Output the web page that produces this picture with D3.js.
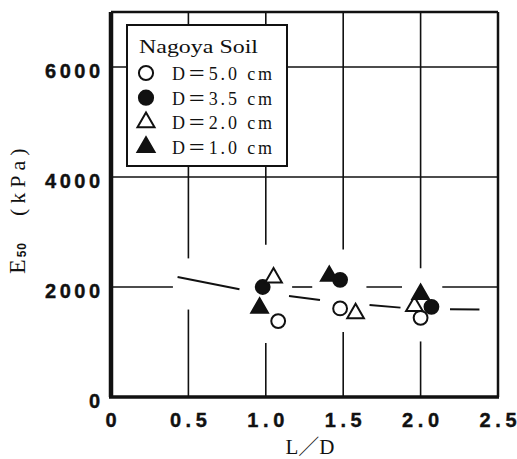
<!DOCTYPE html>
<html><head><meta charset="utf-8">
<script src="https://cdn.jsdelivr.net/npm/d3@7"></script>
<style>html,body{margin:0;padding:0;background:#fff;}svg{display:block;}</style>
</head><body>
<svg id="c" width="517" height="459"></svg>
<script>
// ---- data ----
const legendTitle = "Nagoya Soil";
const seriesLabels = ["D\uFF1D5.0 cm", "D\uFF1D3.5 cm", "D\uFF1D2.0 cm", "D\uFF1D1.0 cm"];
const seriesShapes = ["circle", "circle", "triangle", "triangle"];
const seriesFilled = [false, true, false, true];
const ld_D50 = [1.08, 1.48, 2.00];
const e50_D50 = [1380, 1610, 1440];
const ld_D35 = [0.98, 1.48, 2.07];
const e50_D35 = [2000, 2130, 1640];
const ld_D20 = [1.05, 1.58, 1.96];
const e50_D20 = [2170, 1520, 1650];
const ld_D10 = [0.96, 1.41, 2.00];
const e50_D10 = [1620, 2200, 1870];
const trendLD = [0.43, 0.83, 1.15, 1.35, 1.67, 1.87, 2.19, 2.38];
const trendE50 = [2180, 1960, 1835, 1763, 1672, 1625, 1595, 1590];
const xTicks = [0, 0.5, 1.0, 1.5, 2.0, 2.5];
const yTicks = [0, 2000, 4000, 6000];
const xTickLabels = ["0", "0.5", "1.0", "1.5", "2.0", "2.5"];
const yTickLabels = ["0", "2000", "4000", "6000"];
// gridline breaks (where the original drawing leaves the grid blank)
const vGridBreakLow = [1590, 980, 1180, 1010];
const vGridBreakHigh = [2520, 2770, 2680, 2340];
const hGridBreakStart = [0.40, 1.30, 1.88];
const hGridBreakEnd = [1.17, 1.65, 2.14];

const series = [
  {ld: ld_D50, e: e50_D50}, {ld: ld_D35, e: e50_D35},
  {ld: ld_D20, e: e50_D20}, {ld: ld_D10, e: e50_D10}
];

// ---- layout ----
const L = 111, R = 498, T = 12, B = 397;
const x = d3.scaleLinear().domain([0, 2.5]).range([L, R]);
const y = d3.scaleLinear().domain([0, 7000]).range([B, T]);
const svg = d3.select("#c");
const ink = "#111";

// vertical gridlines
const vg = svg.append("g").attr("stroke", ink).attr("stroke-width", 1.6);
[0.5, 1.0, 1.5, 2.0].forEach((v, i) => {
  vg.append("line").attr("x1", x(v)).attr("x2", x(v)).attr("y1", y(7000)).attr("y2", y(vGridBreakHigh[i]));
  vg.append("line").attr("x1", x(v)).attr("x2", x(v)).attr("y1", y(vGridBreakLow[i])).attr("y2", y(0));
});
// horizontal gridlines
[4000, 6000].forEach(v => {
  vg.append("line").attr("x1", x(0)).attr("x2", x(2.5)).attr("y1", y(v)).attr("y2", y(v));
});
{
  let starts = [0].concat(hGridBreakEnd);
  let ends = hGridBreakStart.concat([2.5]);
  starts.forEach((s, i) => {
    vg.append("line").attr("x1", x(s)).attr("x2", x(ends[i])).attr("y1", y(2000)).attr("y2", y(2000));
  });
}

// frame
svg.append("line").attr("x1", x(0)).attr("x2", x(0)).attr("y1", y(7000)).attr("y2", y(0)).attr("stroke", ink).attr("stroke-width", 4.5);
svg.append("line").attr("x1", x(0) - 2).attr("x2", x(2.5) + 1).attr("y1", y(0)).attr("y2", y(0)).attr("stroke", ink).attr("stroke-width", 3.5);
svg.append("line").attr("x1", x(0)).attr("x2", x(2.5)).attr("y1", y(7000)).attr("y2", y(7000)).attr("stroke", ink).attr("stroke-width", 2.5);
svg.append("line").attr("x1", x(2.5)).attr("x2", x(2.5)).attr("y1", y(7000)).attr("y2", y(0)).attr("stroke", ink).attr("stroke-width", 2.5);

// tick labels
const tickFont = "'Liberation Sans', Arial, sans-serif";
xTicks.forEach((v, i) => {
  const t = svg.append("text").attr("x", x(v)).attr("y", 427)
    .attr("text-anchor", "middle").attr("font-family", tickFont).attr("font-weight", "bold")
    .attr("font-size", 20).attr("fill", ink).attr("stroke", ink).attr("stroke-width", 0.4).text(xTickLabels[i]);
  if (xTickLabels[i].length > 1) t.attr("textLength", 37).attr("lengthAdjust", "spacing");
});
yTicks.forEach((v, i) => {
  const t = svg.append("text").attr("x", 100).attr("y", y(v) + 11)
    .attr("text-anchor", "end").attr("font-family", tickFont).attr("font-weight", "bold")
    .attr("font-size", 20).attr("fill", ink).attr("stroke", ink).attr("stroke-width", 0.4).text(yTickLabels[i]);
  if (yTickLabels[i].length > 1) t.attr("textLength", 55).attr("lengthAdjust", "spacing");
});

// axis titles
const serif = "'Liberation Serif', 'DejaVu Serif', 'Noto Sans CJK JP', serif";
svg.append("text").attr("x", 310).attr("y", 454).attr("text-anchor", "middle")
  .attr("font-family", serif).attr("font-size", 21).attr("fill", ink).text("L\uFF0FD");
const yt = svg.append("text").attr("transform", "translate(25,274) rotate(-90)")
  .attr("font-family", serif).attr("font-size", 22).attr("fill", ink);
yt.append("tspan").attr("font-size", 24).text("E");
yt.append("tspan").attr("font-family", tickFont).attr("font-weight", "bold").attr("font-size", 12)
  .attr("dy", 1).attr("dx", 2).attr("letter-spacing", 1).text("50");
yt.append("tspan").attr("dy", -1).attr("dx", 26).attr("letter-spacing", 5).text("(kPa)");

// trend curve (broken line)
const line = d3.line().x(d => x(d[0])).y(d => y(d[1]));
for (let i = 0; i < trendLD.length; i += 2) {
  svg.append("path").datum([[trendLD[i], trendE50[i]], [trendLD[i + 1], trendE50[i + 1]]])
    .attr("d", line).attr("fill", "none").attr("stroke", ink).attr("stroke-width", 2);
}

// markers
function drawMarker(g, k, cx, cy, scale) {
  const s = scale || 1;
  const isC = seriesShapes[k] === "circle";
  const gen = d3.symbol().type(isC ? d3.symbolCircle : d3.symbolTriangle).size((isC ? 150 : 120) * s);
  g.append("path").attr("d", gen())
    .attr("transform", `translate(${cx},${cy})`)
    .attr("fill", seriesFilled[k] ? ink : "#fff").attr("stroke", ink).attr("stroke-width", 2);
}
const mg = svg.append("g");
series.forEach((s, k) => {
  s.ld.forEach((v, j) => drawMarker(mg, k, x(v), y(s.e[j])));
});

// legend
const lg = svg.append("g");
lg.append("rect").attr("x", 127).attr("y", 25).attr("width", 160).attr("height", 141)
  .attr("fill", "#fff").attr("stroke", ink).attr("stroke-width", 2);
lg.append("text").attr("x", 139).attr("y", 53).attr("font-family", serif).attr("font-size", 18)
  .attr("fill", ink).attr("textLength", 119).attr("lengthAdjust", "spacingAndGlyphs").text(legendTitle);
seriesLabels.forEach((lab, k) => {
  const cy = 73 + k * 24.7;
  drawMarker(lg, k, 146, cy, 1.05);
  lg.append("text").attr("x", 172).attr("y", cy + 7).attr("font-family", serif).attr("font-size", 18)
    .attr("fill", ink).attr("textLength", 100).attr("lengthAdjust", "spacing").text(lab);
});
</script>
</body></html>
